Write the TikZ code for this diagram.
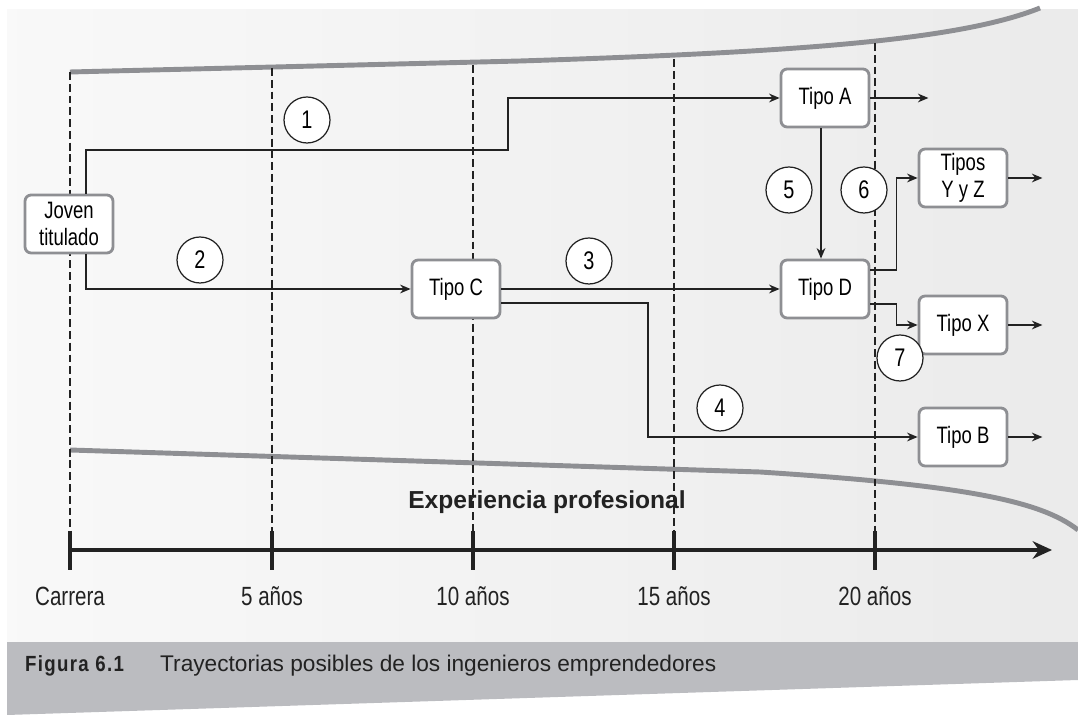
\documentclass[tikz,border=0pt]{standalone}
\usepackage{fontspec}
\setmainfont{Liberation Sans}
\newfontfamily\condfont[FakeStretch=0.78]{Liberation Sans}
\newfontfamily\figfont[FakeStretch=0.85,LetterSpace=6]{Liberation Sans}
\usetikzlibrary{arrows.meta}
\definecolor{borde}{HTML}{8E8F93}
\definecolor{banda}{HTML}{BBBCC0}
\definecolor{trazo}{HTML}{222222}
\tikzset{
  caja/.style={draw=borde,line width=1.6pt,rounded corners=3.5pt,fill=white,
    minimum width=1.76cm,minimum height=1.16cm,align=center,inner sep=1pt,
    font=\condfont\fontsize{13.5}{15}\selectfont},
  num/.style={circle,draw=trazo,line width=0.7pt,fill=white,minimum size=0.92cm,
    inner sep=0pt,font=\condfont\fontsize{14.5}{15}\selectfont},
  flecha/.style={-{Stealth[length=6pt,width=5pt]},line width=0.8pt,draw=trazo},
  guia/.style={dash pattern=on 4.5pt off 2.2pt,line width=0.6pt,draw=trazo},
  curva/.style={line width=2.8pt,draw=borde},
  eje/.style={line width=1.9pt,draw=trazo},
  etiq/.style={font=\condfont\fontsize{15}{17}\selectfont,text=trazo}
}
\begin{document}
\begin{tikzpicture}[x=0.02cm,y=-0.02cm]
  \useasboundingbox (0,0) rectangle (1078,715);
  \shade[left color=gray!5,right color=gray!16] (7,10) rectangle (1078,642);
  \fill[banda] (7,642) -- (1078,642) -- (1078,680) -- (7,715) -- cycle;
  \draw[curva] (70,72) -- (520,61) .. controls (800,52) and (960,40) .. (1040,8);
  \draw[curva] (70,450) -- (760,472) .. controls (960,485) and (1040,500) .. (1078,530);
  \foreach \x/\y in {70/72,272/68,473/65,674/59,875/43}
    \draw[guia] (\x,\y) -- (\x,531);
  \draw[eje,-{Stealth[length=11pt,width=10pt]}] (70,550) -- (1052,550);
  \foreach \x/\t in {70/Carrera,272/5 años,473/10 años,674/15 años,875/20 años} {
    \draw[eje] (\x,531) -- (\x,570);
    \node[etiq] (t\x) at (\x,596) {\t};
  }
  \node[font=\bfseries\fontsize{14}{16}\selectfont,text=trazo] (exp) at (547,502) {Experiencia profesional};
  \node[caja] (joven) at (69,224) {Joven\\titulado};
  \node[caja] (tipoC) at (456,289) {Tipo C};
  \node[caja] (tipoA) at (825,98) {Tipo A};
  \node[caja] (tipoD) at (825,289) {Tipo D};
  \node[caja] (tipoYZ) at (963,178) {Tipos\\Y y Z};
  \node[caja] (tipoX) at (963,325) {Tipo X};
  \node[caja] (tipoB) at (963,437) {Tipo B};
  \draw[flecha] ([xshift=0.34cm]joven.north) |- (508,150) |- (tipoA.west);
  \draw[flecha] ([xshift=0.34cm]joven.south) |- (tipoC.west);
  \draw[flecha] (tipoC.east) -- (tipoD.west);
  \draw[flecha] ([yshift=-0.28cm]tipoC.east) -| (648,437) -- (tipoB.west);
  \draw[flecha] ([xshift=-0.08cm]tipoA.south) -- ([xshift=-0.08cm]tipoD.north);
  \draw[flecha] ([yshift=0.38cm]tipoD.east) -- ++(26,0) |- (tipoYZ.west);
  \draw[flecha] ([yshift=-0.3cm]tipoD.east) -- ++(26,0) |- (tipoX.west);
  \draw[flecha] (tipoA.east) -- ++(58,0);
  \draw[flecha] (tipoYZ.east) -- ++(34,0);
  \draw[flecha] (tipoX.east) -- ++(34,0);
  \draw[flecha] (tipoB.east) -- ++(34,0);
  \node[num] (n1) at (307,120) {1};
  \node[num] (n2) at (200,260) {2};
  \node[num] (n3) at (589,261) {3};
  \node[num] (n4) at (720,408) {4};
  \node[num] (n5) at (789,190) {5};
  \node[num] (n6) at (864,190) {6};
  \node[num] (n7) at (900,358) {7};
  \node[anchor=west,font=\figfont\bfseries\fontsize{12.5}{14}\selectfont,text=trazo] (fig) at (19,666) {Figura 6.1};
  \node[anchor=west,font=\fontsize{12.9}{14}\selectfont,text=trazo] (cap) at (154,666) {Trayectorias posibles de los ingenieros emprendedores};
\end{tikzpicture}
\end{document}
